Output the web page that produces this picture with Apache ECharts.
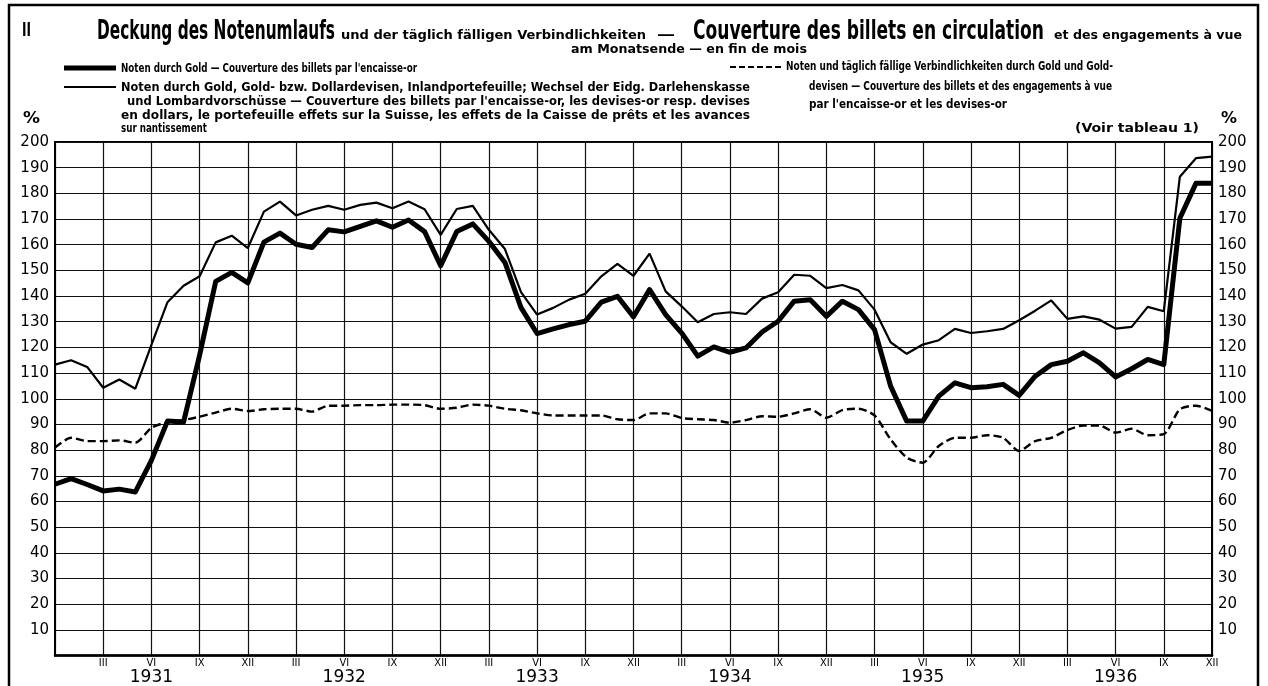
<!DOCTYPE html>
<html>
<head>
<meta charset="utf-8">
<title>Deckung des Notenumlaufs</title>
<script src="https://cdn.jsdelivr.net/npm/echarts@6/dist/echarts.min.js"></script>
<style>
  html, body { margin: 0; padding: 0; background: #fff; }
  #chart { width: 1268px; height: 686px; }
</style>
</head>
<body>
<div id="chart"></div>
<script>
// Monatsende, XII 1930 bis XII 1936
const years = [1931, 1932, 1933, 1934, 1935, 1936]
const monthTicks = ['III', 'VI', 'IX', 'XII']

// Noten durch Gold (dicke Linie)
const goldCover = [
  66.7, 68.9, 66.6, 64.1, 64.8, 63.7, 76, 91.3, 90.9, 117, 145.7, 149.2, 145.1,
  161.0, 164.5, 160.2, 158.9, 165.8, 165.0, 167.1, 169.3, 166.8, 169.6, 165.1, 151.8,
  165.1, 168.1, 161.3, 153.1, 135.5, 125.4, 127.2, 128.9, 130.2, 137.6, 139.9, 131.9,
  142.5, 132.8, 125.6, 116.6, 120.2, 118.1, 119.8, 126, 130.2, 138.0, 138.6, 132.1,
  138.0, 134.7, 126.9, 104.9, 91.3, 91.3, 101.0, 106.2, 104.3, 104.7, 105.6, 101.3,
  108.8, 113.3, 114.6, 117.9, 114.0, 108.5, 111.7, 115.3, 113.3, 170.3, 183.9, 183.9
]
// Noten durch Gold, Devisen, Inlandportefeuille usw. (dünne Linie)
const wideCover = [
  113.3, 115.0, 112.4, 104.3, 107.5, 103.9, 121, 137.6, 144.0, 147.7, 160.9, 163.5, 158.7,
  172.9, 176.8, 171.4, 173.6, 175.1, 173.6, 175.5, 176.4, 174.2, 176.8, 173.8, 163.8,
  173.9, 175.1, 165.8, 158.3, 141.5, 132.8, 135.4, 138.6, 140.9, 147.7, 152.5, 147.9,
  156.5, 141.8, 136.0, 129.8, 133.0, 133.7, 133.0, 139, 141.5, 148.3, 147.9, 143.1,
  144.3, 142.2, 134.7, 122, 117.5, 121.1, 122.8, 127.2, 125.6, 126.3, 127.2, 130.6,
  134.3, 138.3, 131.1, 132.1, 130.8, 127.3, 128.0, 135.8, 134.1, 186.5, 193.7, 194.3
]
// Noten und täglich fällige Verbindlichkeiten durch Gold und Golddevisen (gestrichelt)
const totalCover = [
  81.0, 84.8, 83.5, 83.5, 83.8, 82.9, 88.7, 90.9, 91.7, 93.0, 94.6, 96.1, 95.2,
  95.9, 96.1, 96.1, 95.0, 97.3, 97.3, 97.5, 97.5, 97.7, 97.7, 97.5, 96.1,
  96.5, 97.7, 97.3, 96.1, 95.5, 94.3, 93.5, 93.5, 93.5, 93.5, 92.0, 91.7,
  94.3, 94.3, 92.5, 92.0, 91.7, 90.7, 91.7, 93.2, 93.0, 94.3, 95.9, 92.6,
  95.6, 96.1, 93.5, 84.2, 77.1, 75.1, 81.6, 84.8, 84.8, 85.8, 84.8, 79.7,
  83.5, 84.8, 87.8, 89.6, 89.6, 86.8, 88.3, 85.8, 86.2, 95.9, 97.3, 95.3
]

const categories = ['1930-12']
years.forEach(y => {
  for (let m = 1; m <= 12; m++) categories.push(y + '-' + (m < 10 ? '0' + m : m))
})

const narrow = '"Liberation Sans Narrow", "DejaVu Sans Condensed", sans-serif'
const geo = '"DejaVu Sans", sans-serif'

// Text auf eine Zielbreite stauchen, damit er wie im Original sitzt
const measureCtx = document.createElement('canvas').getContext('2d')
function fitText (text, font, x, y, width) {
  measureCtx.font = font
  const w = measureCtx.measureText(text).width
  return {
    type: 'text',
    x: x,
    y: y,
    scaleX: width ? width / w : 1,
    style: { text: text, font: font, fill: '#000', verticalAlign: 'middle' }
  }
}

const chart = echarts.init(document.getElementById('chart'), null, { renderer: 'canvas' })

const option = {
  backgroundColor: '#fff',
  animation: false,
  grid: {
    left: 55,
    right: 56,
    top: 142,
    bottom: 29,
    show: true,
    borderColor: '#000',
    borderWidth: 2
  },
  xAxis: {
    type: 'category',
    data: categories,
    boundaryGap: false,
    axisLine: { show: true, lineStyle: { color: '#000', width: 2.5 } },
    axisTick: { show: false },
    splitLine: {
      show: true,
      interval: (index) => index % 3 === 0,
      lineStyle: { color: '#111', width: 1.2 }
    },
    axisLabel: {
      interval: 0,
      margin: 2,
      formatter: (value, index) => {
        const parts = value.split('-')
        const m = parseInt(parts[1], 10)
        if (index === 0 || m % 3 !== 0) return ''
        const roman = monthTicks[m / 3 - 1]
        if (m === 6) return '{m|' + roman + '}\n{y|' + parts[0] + '}'
        return '{m|' + roman + '}'
      },
      rich: {
        m: { fontSize: 11, fontFamily: narrow, lineHeight: 12, color: '#000' },
        y: { fontSize: 17, fontFamily: geo, lineHeight: 16, color: '#000' }
      }
    }
  },
  yAxis: [
    {
      type: 'value',
      position: 'left',
      min: 0,
      max: 200,
      interval: 10,
      axisLine: { show: true, lineStyle: { color: '#000', width: 2 } },
      axisTick: { show: false },
      splitLine: { show: true, lineStyle: { color: '#111', width: 1.2 } },
      axisLabel: {
        margin: 6,
        color: '#000',
        fontFamily: geo,
        fontSize: 15,
        formatter: v => (v === 0 ? '' : v)
      }
    },
    {
      type: 'value',
      position: 'right',
      min: 0,
      max: 200,
      interval: 10,
      axisLine: { show: true, lineStyle: { color: '#000', width: 2 } },
      axisTick: { show: false },
      splitLine: { show: false },
      axisLabel: {
        margin: 6,
        color: '#000',
        fontFamily: geo,
        fontSize: 15,
        formatter: v => (v === 0 ? '' : v)
      }
    }
  ],
  series: [
    {
      name: 'Noten und täglich fällige Verbindlichkeiten durch Gold und Golddevisen',
      type: 'line',
      data: totalCover,
      showSymbol: false,
      smooth: 0.25,
      lineStyle: { color: '#000', width: 2.4, type: [8, 4] },
      z: 3
    },
    {
      name: 'Noten durch Gold, Gold- bzw. Dollardevisen, Inlandportefeuille',
      type: 'line',
      data: wideCover,
      showSymbol: false,
      lineStyle: { color: '#000', width: 2.2 },
      z: 4
    },
    {
      name: 'Noten durch Gold',
      type: 'line',
      data: goldCover,
      showSymbol: false,
      lineStyle: { color: '#000', width: 5, join: 'round' },
      z: 5
    }
  ],
  graphic: [
    // Rahmen
    { type: 'rect', shape: { x: 9, y: 5, width: 1249, height: 700 }, style: { fill: 'none', stroke: '#000', lineWidth: 2.5 } },
    // Kopfzeile
    fitText('II', 'bold 20px ' + narrow, 22, 31, 9),
    fitText('Deckung des Notenumlaufs', 'bold 27px ' + narrow, 97, 32, 238),
    fitText('und der täglich fälligen Verbindlichkeiten', 'bold 12px ' + narrow, 341, 36, 305),
    fitText('—', 'bold 14px ' + narrow, 657, 35, 18),
    fitText('Couverture des billets en circulation', 'bold 27px ' + narrow, 693, 32, 351),
    fitText('et des engagements à vue', 'bold 12px ' + narrow, 1054, 36, 188),
    fitText('am Monatsende — en fin de mois', 'bold 12px ' + narrow, 571, 50, 236),
    // Legende links
    { type: 'line', shape: { x1: 64, y1: 68, x2: 116, y2: 68 }, style: { stroke: '#000', lineWidth: 5 } },
    fitText('Noten durch Gold — Couverture des billets par l\'encaisse-or', 'bold 12px ' + narrow, 121, 69, 296),
    { type: 'line', shape: { x1: 64, y1: 87, x2: 116, y2: 87 }, style: { stroke: '#000', lineWidth: 2.2 } },
    fitText('Noten durch Gold, Gold- bzw. Dollardevisen, Inlandportefeuille; Wechsel der Eidg. Darlehenskasse', 'bold 12px ' + narrow, 121, 88, 629),
    fitText('und Lombardvorschüsse — Couverture des billets par l\'encaisse-or, les devises-or resp. devises', 'bold 12px ' + narrow, 127, 102, 623),
    fitText('en dollars, le portefeuille effets sur la Suisse, les effets de la Caisse de prêts et les avances', 'bold 12px ' + narrow, 121, 116, 629),
    fitText('sur nantissement', 'bold 12px ' + narrow, 121, 129, 86),
    // Legende rechts
    { type: 'line', shape: { x1: 730, y1: 67, x2: 782, y2: 67 }, style: { stroke: '#000', lineWidth: 2.2, lineDash: [6, 3] } },
    fitText('Noten und täglich fällige Verbindlichkeiten durch Gold und Gold-', 'bold 12px ' + narrow, 786, 67, 327),
    fitText('devisen — Couverture des billets et des engagements à vue', 'bold 12px ' + narrow, 809, 87, 303),
    fitText('par l\'encaisse-or et les devises-or', 'bold 12px ' + narrow, 809, 105, 198),
    // Einheiten
    fitText('%', 'bold 15px ' + geo, 23, 119, 17),
    fitText('%', 'bold 15px ' + geo, 1221, 119, 16),
    fitText('(Voir tableau 1)', 'bold 12px ' + narrow, 1075, 129, 124)
  ]
}

chart.setOption(option)
</script>
</body>
</html>
